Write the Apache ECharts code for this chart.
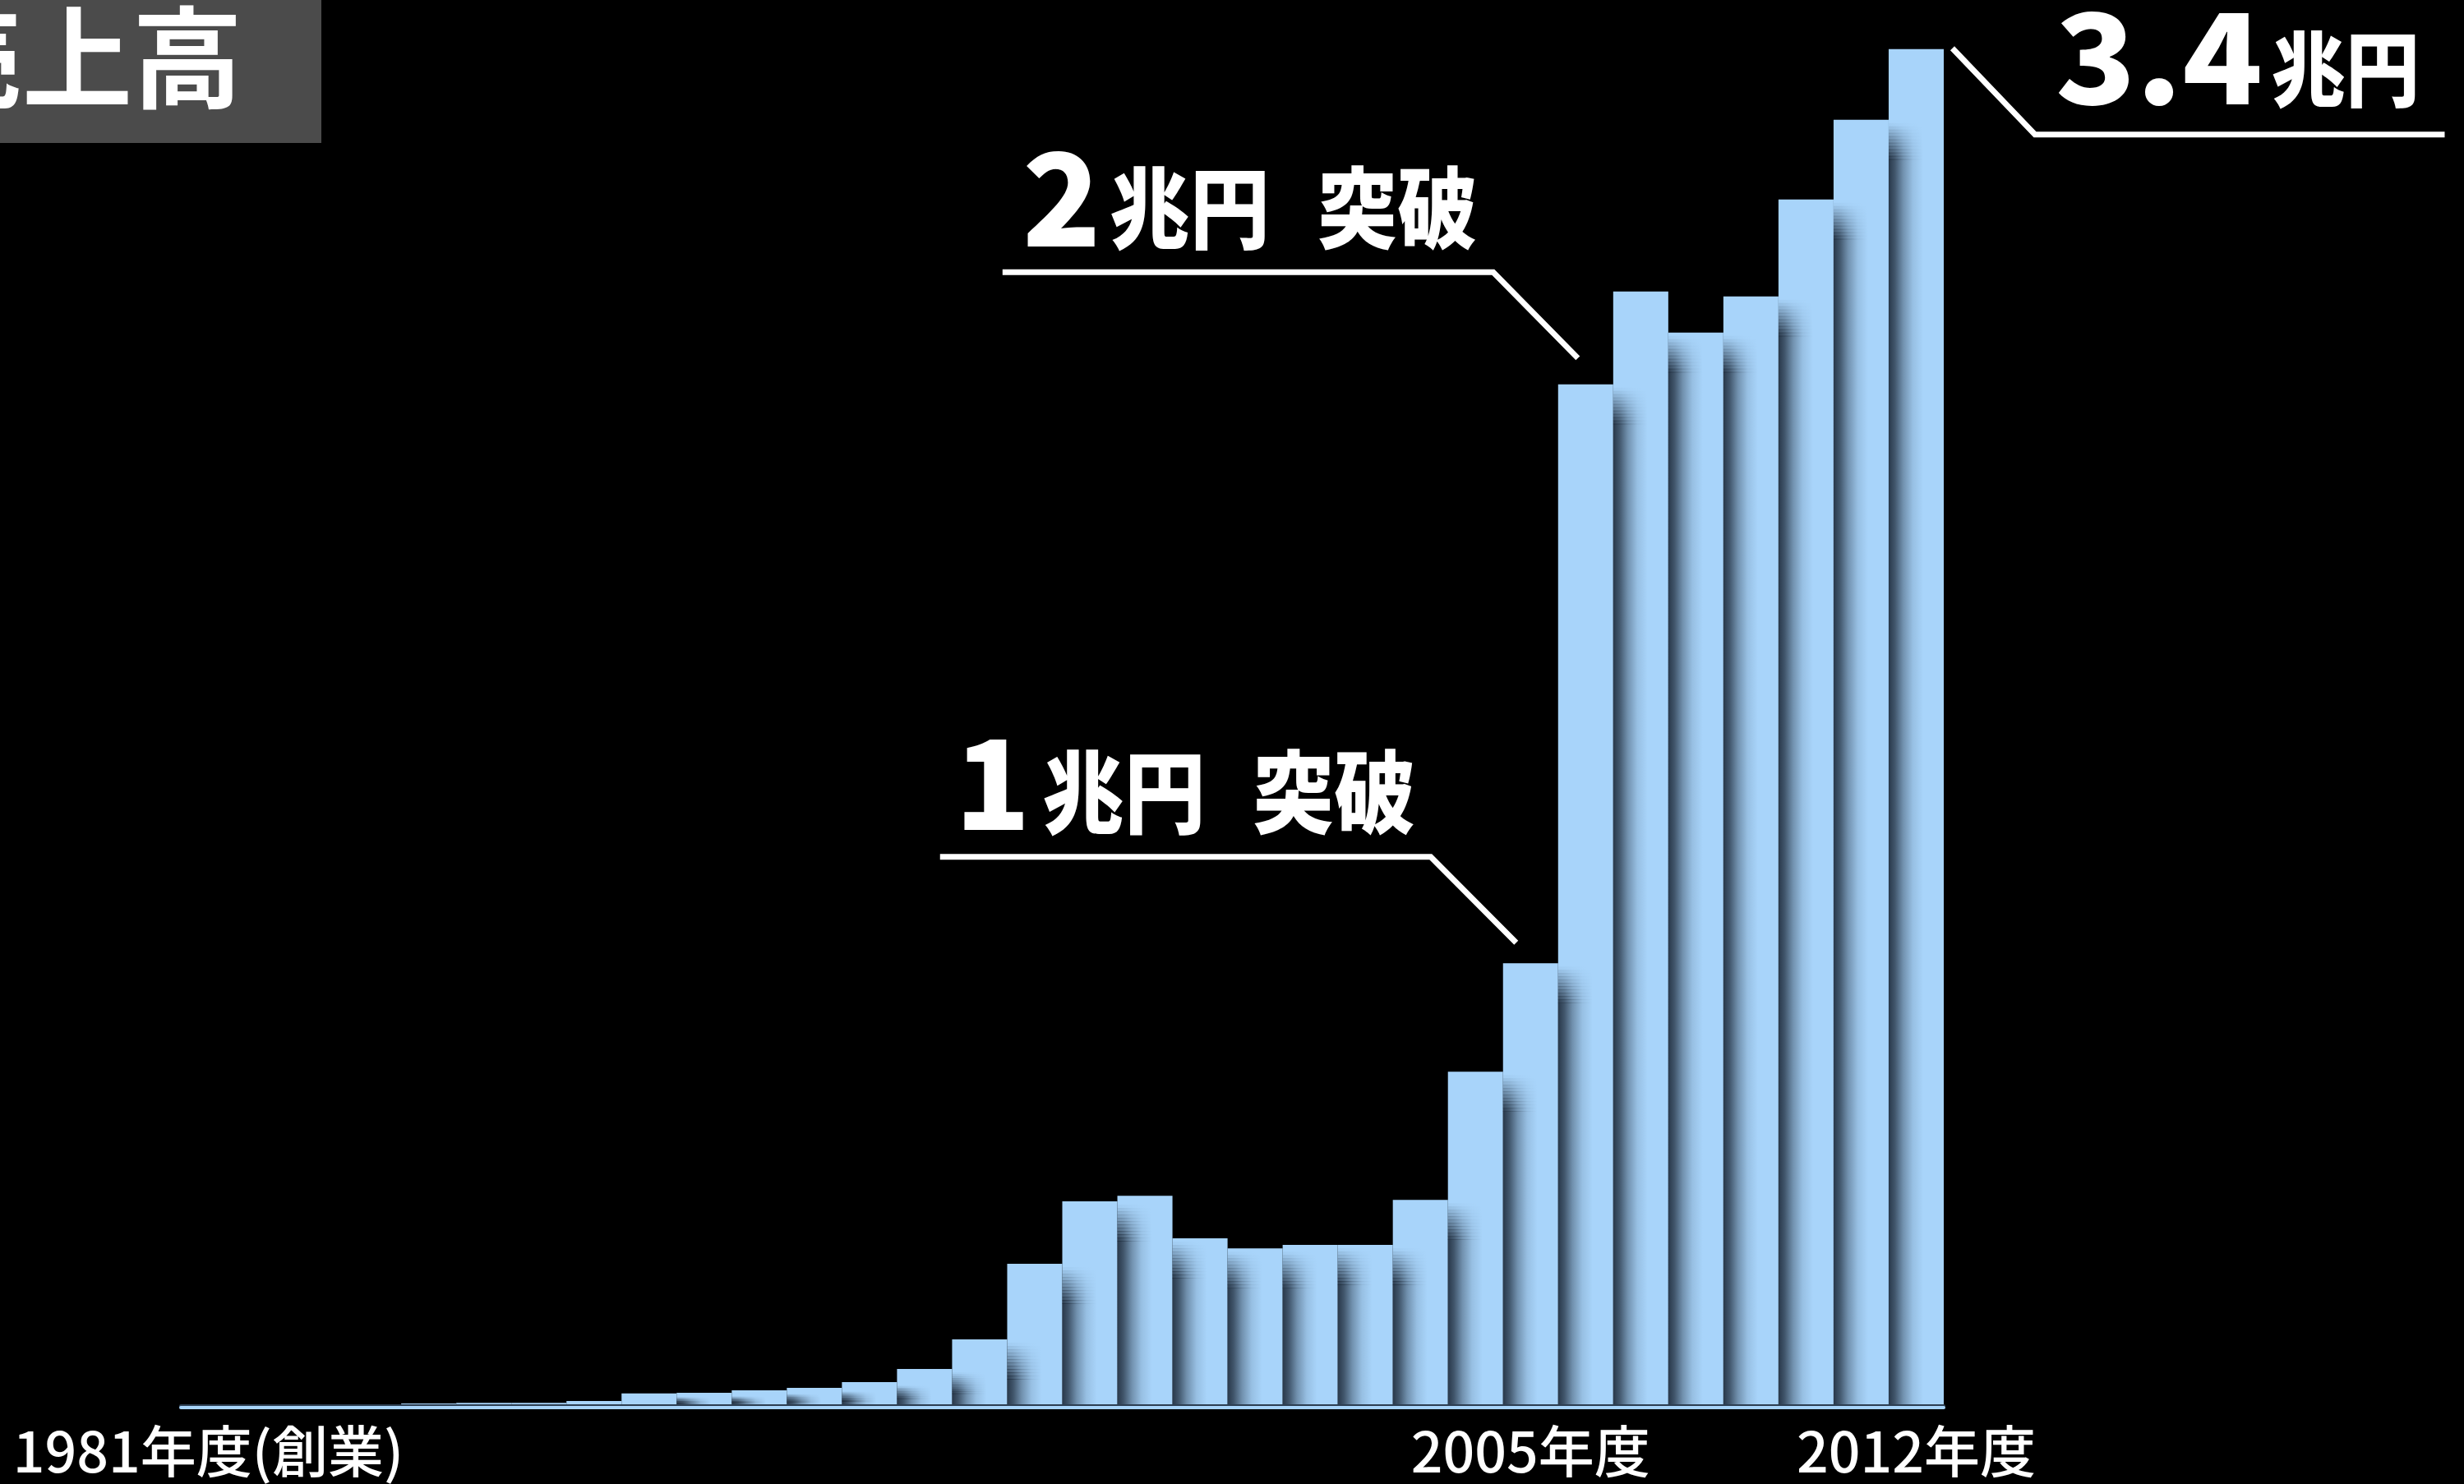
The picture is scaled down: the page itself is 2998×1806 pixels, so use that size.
<!DOCTYPE html>
<html>
<head>
<meta charset="utf-8">
<script src="https://cdn.jsdelivr.net/npm/echarts@6/dist/echarts.min.js"></script>
<style>
  html, body { margin: 0; padding: 0; background: #000; }
  #main { width: 2998px; height: 1806px; }
</style>
</head>
<body>
<div id="main"></div>
<script>
// ---- data (売上高, 億円) ----
const years = ['1981','1982','1983','1984','1985','1986','1987','1988','1989','1990',
               '1991','1992','1993','1994','1995','1996','1997','1998','1999','2000',
               '2001','2002','2003','2004','2005','2006','2007','2008','2009','2010',
               '2011','2012'];
const sales = [0, 20, 5, 60, 100, 120, 120, 165, 350, 370,
               430, 490, 635, 960, 1695, 3574, 5126, 5268, 4207, 3961,
               4043, 4043, 5166, 8352, 11047, 25441, 27752, 26730, 27630, 30040,
               32020, 33780];
const labelYears = ['1981', '2005', '2012'];
const labelTexts = ['1981年度(創業)', '2005年度', '2012年度'];
const titleText = '売上高';
const calloutYears = ['2005', '2006', '2012'];
const calloutBig = ['1', '2', '3.4'];
const calloutUnit = ['兆円', '兆円', '兆円'];
const calloutTail = ['突破', '突破', ''];

// ---- chart ----
const FONT = '"Noto Sans CJK JP", "Noto Sans", sans-serif';
const BAR = '#a8d4fa';
const chart = echarts.init(document.getElementById('main'), null, { renderer: 'canvas' });

// shadow cast by each bar onto its right neighbour: [category, value, left neighbour value]
const shadowData = years.map(function (y, i) { return [y, sales[i], i > 0 ? sales[i - 1] : 0]; });

function shadeGradient(k) {
  const c = function (a) { return 'rgba(16,26,40,' + (a * k).toFixed(3) + ')'; };
  return new echarts.graphic.LinearGradient(0, 0, 1, 0, [
    { offset: 0, color: c(0.84) },
    { offset: 0.18, color: c(0.68) },
    { offset: 0.42, color: c(0.36) },
    { offset: 0.7, color: c(0.11) },
    { offset: 1, color: c(0) }
  ]);
}

function renderShadow(params, api) {
  const h = Math.min(api.value(1), api.value(2));
  if (!(h > 0)) return null;
  const base = api.coord([api.value(0), 0]);
  const top = api.coord([api.value(0), h]);
  const band = api.size([1, 0])[0];
  const x0 = base[0] - band / 2;
  const w = 42;
  const yTop = top[1] + 4;
  const yBase = base[1];
  const span = yBase - yTop;
  if (span <= 0) return null;
  const fade = Math.min(44, span * 0.6);
  const n = 11;
  const children = [];
  for (let k = 0; k < n; k++) {
    children.push({
      type: 'rect',
      shape: { x: x0, y: yTop + k * fade / n, width: w, height: fade / n + 0.5 },
      style: { fill: shadeGradient((k + 0.5) / n) }
    });
  }
  children.push({
    type: 'rect',
    shape: { x: x0, y: yTop + fade, width: w, height: yBase - yTop - fade },
    style: { fill: shadeGradient(1) }
  });
  return { type: 'group', children: children };
}

const option = {
  backgroundColor: '#000',
  animation: false,
  grid: { left: 220, right: 633, top: 0, bottom: 93, containLabel: false },
  xAxis: {
    type: 'category',
    data: years,
    offset: 3,
    z: 5,
    axisLine: { show: true, lineStyle: { color: BAR, width: 4, shadowColor: '#2c3e52', shadowOffsetY: -2, shadowBlur: 0 } },
    axisTick: { show: false },
    axisLabel: {
      interval: function (i, v) { return labelYears.indexOf(v) >= 0; },
      formatter: function (v) { const k = labelYears.indexOf(v); return k >= 0 ? labelTexts[k] : ''; },
      color: '#fff',
      fontSize: 68,
      fontWeight: 500,
      fontFamily: FONT,
      margin: 16
    },
    splitLine: { show: false }
  },
  yAxis: { type: 'value', min: 0, max: 35000, show: false },
  series: [{
    type: 'bar',
    data: sales,
    barCategoryGap: '0%',
    silent: true,
    z: 2,
    itemStyle: { color: BAR },
    emphasis: { disabled: true }
  }, {
    type: 'custom',
    data: shadowData,
    encode: { x: 0, y: 1 },
    renderItem: renderShadow,
    silent: true,
    z: 3
  }],
  graphic: []
};
chart.setOption(option);

// ---- title box & callouts ----
const graphics = [];
graphics.push({ type: 'rect', z: 10, shape: { x: 0, y: 0, width: 391, height: 174 }, style: { fill: '#4b4b4b' } });
graphics.push({
  type: 'text', z: 11, x: -107, y: 70,
  style: { text: titleText, fontSize: 134, fontWeight: 'bold', fontFamily: FONT, fill: '#fff',
           align: 'left', verticalAlign: 'middle', shadowBlur: 14, shadowColor: 'rgba(0,0,0,0.7)' }
});

// layout offsets relative to the bar-top centre of each annotated year
const calloutLayout = [
  { line: [[-718.5, -129.5], [-121.5, -129.5], [-17.5, -25]], big: [-654.5, -220, 151, 1], unit: [-494.5, -208, 110, 0.9], tail: [-239, -208, 110, 0.9] },
  { line: [[-709.5, -136.5], [-112.5, -136.5], [-9.5, -32]],  big: [-637.5, -228, 157, 1], unit: [-481.5, -215, 108, 0.9], tail: [-229, -215, 108, 0.9] },
  { line: [[44, -1], [144.5, 104], [643, 104]],               big: [295.5, 9, 153, 1.05],  unit: [522.5, 24, 100, 0.9],   tail: null }
];

function txt(str, cx, cy, spec) {
  return {
    type: 'text', z: 12, x: cx + spec[0], y: cy + spec[1], scaleX: spec[3],
    style: { text: str, fontSize: spec[2], fontWeight: 900, fontFamily: FONT, fill: '#fff',
             align: 'center', verticalAlign: 'middle' }
  };
}

calloutYears.forEach(function (yr, k) {
  const val = sales[years.indexOf(yr)];
  const p = chart.convertToPixel({ seriesIndex: 0 }, [yr, val]);
  const cx = p[0], cy = p[1];
  const L = calloutLayout[k];
  graphics.push({
    type: 'polyline', z: 12,
    shape: { points: L.line.map(function (q) { return [cx + q[0], cy + q[1]]; }) },
    style: { stroke: '#fff', lineWidth: 7, fill: null, lineJoin: 'miter' }
  });
  graphics.push(txt(calloutBig[k], cx, cy, L.big));
  graphics.push(txt(calloutUnit[k], cx, cy, L.unit));
  if (calloutTail[k] && L.tail) graphics.push(txt(calloutTail[k], cx, cy, L.tail));
});

chart.setOption({ graphic: graphics });
</script>
</body>
</html>
